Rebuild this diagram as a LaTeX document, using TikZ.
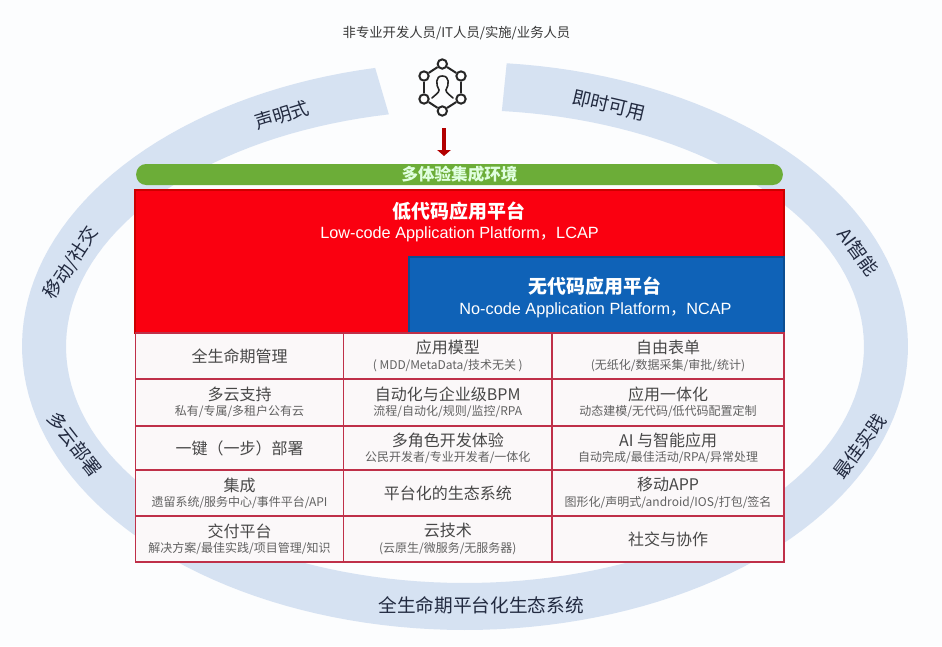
\documentclass[tikz,border=0pt]{standalone}
\usepackage{fontspec}
\usepackage{xcolor}
\setmainfont{Noto Sans CJK SC}
\newfontfamily\arialfont{Liberation Sans}
\usetikzlibrary{positioning,arrows.meta}

\definecolor{bandblue}{HTML}{D6E2F2}
\definecolor{pagewhite}{HTML}{FCFDFE}
\definecolor{barGreen}{HTML}{6CAD38}
\definecolor{lcapRed}{HTML}{FA0010}
\definecolor{ncapBlue}{HTML}{0F62B7}
\definecolor{cellEdge}{HTML}{BF3049}
\definecolor{cellFill}{HTML}{FBF8F9}
\definecolor{inkDark}{HTML}{222A40}

\newcommand{\cellhead}[2]{{\fontsize{12}{14}\selectfont\color{black!72}#1}\\[-0.5pt]{\fontsize{9}{10}\selectfont\color{black!62}#2}}
\newcommand{\cellsolo}[1]{{\fontsize{12}{14}\selectfont\color{black!72}#1}}

\tikzset{
    hubdot/.style={circle, draw=black!85, fill=white, line width=1.5pt, minimum size=7pt, inner sep=0pt},
    hubline/.style={draw=black!85, line width=1.5pt},
    bandtext/.style={text=inkDark, font=\fontsize{14}{16}\selectfont},
    cell/.style={draw=cellEdge, fill=cellFill, line width=1.4pt, outer sep=0pt, inner sep=0pt, align=center},
    cola/.style={minimum width=156pt},
    colb/.style={minimum width=156.4pt},
    colc/.style={minimum width=174pt},
    rowa/.style={minimum height=34.5pt},
    rowb/.style={minimum height=35.25pt},
    rowc/.style={minimum height=33pt},
    rowd/.style={minimum height=34.5pt},
    rowe/.style={minimum height=34.5pt},
}

\begin{document}
\begin{tikzpicture}[x=0.75pt, y=-0.75pt]
    \useasboundingbox[fill=pagewhite] (0,0) rectangle (942,646);

    % ring behind the table
    \fill[bandblue] plot[domain=-101.7:-444.6, samples=160] ({465+443*cos(\x)}, {346+284*sin(\x)})
        -- plot[domain=-444.7:-101, samples=160] ({465+399*cos(\x)}, {346.5+236.5*sin(\x)}) -- cycle;

    \node[bandtext, rotate=17] (declare) at (282,115) {声明式};
    \node[bandtext, rotate=-13] (instant) at (609,105) {即时可用};
    \node[bandtext, rotate=57] (mobile) at (71,263) {移动/社交};
    \node[bandtext, rotate=-54] (aismart) at (858,252) {AI智能};
    \node[bandtext, rotate=-52] (multicloud) at (75,444) {多云部署};
    \node[bandtext, rotate=54] (practice) at (860,446) {最佳实践};
    \node[bandtext] (lifecycle) at (481,605) {全生命期平台化生态系统};

    % people on top
    \node[text=black!78, font=\fontsize{10}{12}\selectfont] (people) at (456.5,33) {非专业开发人员/IT人员/实施/业务人员};

    \node[hubdot] (hubA) at (442.3,64) {};
    \node[hubdot] (hubB) at (461,76) {};
    \node[hubdot] (hubC) at (461,99) {};
    \node[hubdot] (hubD) at (442.3,111) {};
    \node[hubdot] (hubE) at (424,99) {};
    \node[hubdot] (hubF) at (424,76) {};
    \draw[hubline] (hubA) -- (hubB);
    \draw[hubline] (hubB) -- (hubC);
    \draw[hubline] (hubC) -- (hubD);
    \draw[hubline] (hubD) -- (hubE);
    \draw[hubline] (hubE) -- (hubF);
    \draw[hubline] (hubF) -- (hubA);
    \draw[hubline, line width=1.2pt, line cap=round] (432,98) .. controls (435,95) and (439,93) .. (439,90)
        .. controls (436,85) and (435,76) .. (442.3,76) .. controls (450,76) and (449,85) .. (446,90)
        .. controls (446,93) and (450,95) .. (453,98);

    \coordinate (arrowfrom) at (444,128);
    \coordinate (arrowto) at (444,156);
    \draw[-{Triangle[length=4.5pt,width=10pt]}, draw=red!70!black, fill=red!70!black, line width=3pt] (arrowfrom) -- (arrowto);

    \node[fill=barGreen, rounded corners=7.5pt, minimum width=485pt, minimum height=15.75pt, inner sep=0pt, outer sep=0pt,
        text=green!12!white, font=\bfseries\fontsize{12.4}{14}\selectfont] (envbar) at (459.5,174.5) {多体验集成环境};

    % the two platform blocks
    \node[draw=red!80!black, fill=lcapRed, line width=0.8pt, outer sep=0pt, minimum width=486.75pt, minimum height=107.25pt] (lcap) at (459.5,261.5) {};
    \node[draw=ncapBlue!80!black, fill=ncapBlue, line width=0.8pt, outer sep=0pt, minimum width=281.25pt, minimum height=57pt] (ncap) at (596.5,295) {};

    \node[text=white, font=\bfseries\fontsize{14.2}{16}\selectfont] (lcapname) at (459,211) {低代码应用平台};
    \node[text=white, font=\fontsize{12.2}{14}\selectfont] (lcapsub) at (459.5,234) {{\arialfont Low-code Application Platform}，{\arialfont LCAP}};
    \node[text=white, font=\bfseries\fontsize{14.2}{16}\selectfont] (ncapname) at (595,286) {无代码应用平台};
    \node[text=white, font=\fontsize{12.2}{14}\selectfont] (ncapsub) at (595.5,310) {{\arialfont No-code Application Platform}，{\arialfont NCAP}};

    % feature table
    \node[cell, cola, rowa] (cellAa) at (239.5,356) {\cellsolo{全生命期管理}};
    \node[cell, colb, rowa, right=0pt of cellAa] (cellAb) {\cellhead{应用模型}{( MDD/MetaData/技术无关 )}};
    \node[cell, colc, rowa, right=0pt of cellAb] (cellAc) {\cellhead{自由表单}{(无纸化/数据采集/审批/统计)}};
    \node[cell, cola, rowb, below=0pt of cellAa] (cellBa) {\cellhead{多云支持}{私有/专属/多租户公有云}};
    \node[cell, colb, rowb, right=0pt of cellBa] (cellBb) {\cellhead{自动化与企业级BPM}{流程/自动化/规则/监控/RPA}};
    \node[cell, colc, rowb, right=0pt of cellBb] (cellBc) {\cellhead{应用一体化}{动态建模/无代码/低代码配置定制}};
    \node[cell, cola, rowc, below=0pt of cellBa] (cellCa) {\cellsolo{一键（一步）部署}};
    \node[cell, colb, rowc, right=0pt of cellCa] (cellCb) {\cellhead{多角色开发体验}{公民开发者/专业开发者/一体化}};
    \node[cell, colc, rowc, right=0pt of cellCb] (cellCc) {\cellhead{AI 与智能应用}{自动完成/最佳活动/RPA/异常处理}};
    \node[cell, cola, rowd, below=0pt of cellCa] (cellDa) {\cellhead{集成}{遗留系统/服务中心/事件平台/API}};
    \node[cell, colb, rowd, right=0pt of cellDa] (cellDb) {\cellsolo{平台化的生态系统}};
    \node[cell, colc, rowd, right=0pt of cellDb] (cellDc) {\cellhead{移动APP}{图形化/声明式/android/IOS/打包/签名}};
    \node[cell, cola, rowe, below=0pt of cellDa] (cellEa) {\cellhead{交付平台}{解决方案/最佳实践/项目管理/知识}};
    \node[cell, colb, rowe, right=0pt of cellEa] (cellEb) {\cellhead{云技术}{(云原生/微服务/无服务器)}};
    \node[cell, colc, rowe, right=0pt of cellEb] (cellEc) {\cellsolo{社交与协作}};
\end{tikzpicture}
\end{document}
